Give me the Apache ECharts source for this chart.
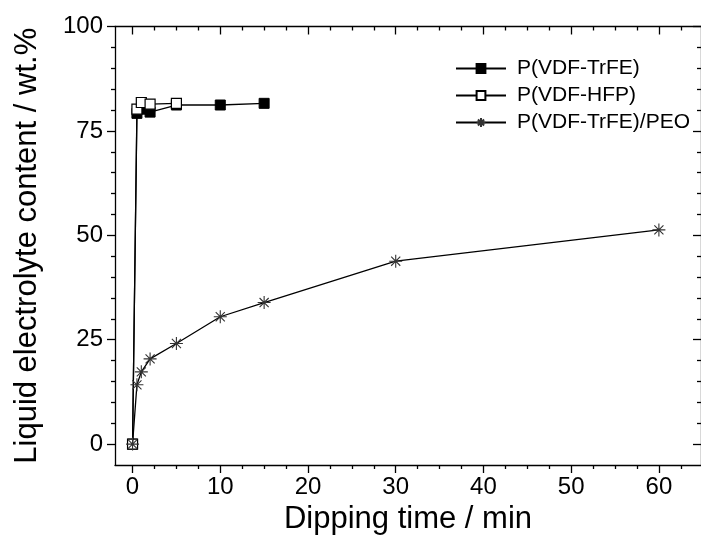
<!DOCTYPE html>
<html>
<head>
<meta charset="utf-8">
<script src="https://cdn.jsdelivr.net/npm/echarts@6/dist/echarts.min.js"></script>
<style>
  html, body { margin: 0; padding: 0; background: #fff; }
  #chart { width: 701px; height: 543px; }
</style>
</head>
<body>
<div id="chart"></div>
<script>
// Dipping time (min) and liquid electrolyte uptake (wt.%)
const seriesNames = ['P(VDF-TrFE)', 'P(VDF-HFP)', 'P(VDF-TrFE)/PEO'];
const timeTrFE = [0, 0.5, 1, 2, 5, 10, 15];
const uptakeTrFE = [0, 79.2, 80.2, 79.5, 81.2, 81.2, 81.6];
const timeHFP = [0, 0.5, 1, 2, 5];
const uptakeHFP = [0, 80.2, 81.8, 81.4, 81.6];
const timePEO = [0, 0.5, 1, 2, 5, 10, 15, 30, 60];
const uptakePEO = [0, 14.2, 17.3, 20.4, 24.1, 30.5, 33.9, 43.8, 51.3];

const xTickLabels = [0, 10, 20, 30, 40, 50, 60];
const yTickLabels = [0, 25, 50, 75, 100];

const X_MIN = -2, X_MAX = 64.8, Y_MIN = -5, Y_MAX = 100;

function minorValues(start, end, step, majors) {
  const out = [];
  for (let v = start; v <= end + 1e-9; v += step) {
    if (!majors.some(m => Math.abs(m - v) < 1e-9)) out.push(+v.toFixed(3));
  }
  return out;
}
const xMinor = minorValues(2.5, 62.5, 2.5, xTickLabels);
const yMinor = minorValues(5, 95, 5, yTickLabels);

const FONT = '"Liberation Sans", Arial, sans-serif';
const AX = { color: '#000', width: 1.3 };

function axisDef(pos, lo, hi, ticks, len, inside, withLine, withLabel, margin) {
  return {
    type: 'value', position: pos, min: lo, max: hi,
    splitLine: { show: false },
    axisLine: { show: withLine, onZero: false, lineStyle: AX },
    axisTick: { show: true, inside: inside, length: len, customValues: ticks, lineStyle: AX },
    axisLabel: withLabel
      ? { show: true, customValues: ticks, fontSize: 24, color: '#000', fontFamily: FONT, margin: margin }
      : { show: false }
  };
}

const xAxes = [
  Object.assign(axisDef('bottom', X_MIN, X_MAX, xTickLabels, 8, false, true, true, 10), {
    name: 'Dipping time / min', nameLocation: 'middle', nameGap: 37,
    nameTextStyle: { fontSize: 31, color: '#000', fontFamily: FONT }
  }),
  axisDef('bottom', X_MIN, X_MAX, xMinor, 4, false, false, false),
  axisDef('top', X_MIN, X_MAX, xTickLabels, 8, true, true, false),
  axisDef('top', X_MIN, X_MAX, xMinor, 4, true, false, false)
];
const yAxes = [
  Object.assign(axisDef('left', Y_MIN, Y_MAX, yTickLabels, 8, false, true, true, 12), {
    name: 'Liquid electrolyte content / wt.%', nameLocation: 'middle', nameGap: 72,
    nameTextStyle: { fontSize: 31, color: '#000', fontFamily: FONT }
  }),
  axisDef('left', Y_MIN, Y_MAX, yMinor, 4, false, false, false),
  axisDef('right', Y_MIN, Y_MAX, yTickLabels, 8, true, true, false),
  axisDef('right', Y_MIN, Y_MAX, yMinor, 4, true, false, false)
];

// asterisk marker: vertical, horizontal and both diagonals
const starPath = 'path://M0,-10L0,10M-10,0L10,0M-7,-7L7,7M-7,7L7,-7';

function pairs(xs, ys) { return xs.map((x, i) => [x, ys[i]]); }

const chart = echarts.init(document.getElementById('chart'), null, { renderer: 'canvas' });
chart.setOption({
  backgroundColor: '#fff',
  animation: false,
  grid: { left: 115, top: 26.5, width: 590, height: 438.5, containLabel: false },
  xAxis: xAxes,
  yAxis: yAxes,
  legend: {
    data: seriesNames,
    orient: 'vertical',
    left: 455, top: 58,
    itemWidth: 50, itemHeight: 11, itemGap: 6,
    textStyle: { fontSize: 21, color: '#000', fontFamily: FONT, padding: [0, 0, 0, 6] },
    padding: 0
  },
  series: [
    {
      name: seriesNames[0], type: 'line', data: pairs(timeTrFE, uptakeTrFE),
      symbol: 'rect', symbolSize: 10,
      lineStyle: { color: '#000', width: 1.3 },
      itemStyle: { color: '#000', borderColor: '#000', borderWidth: 1 },
      z: 2
    },
    {
      name: seriesNames[1], type: 'line', data: pairs(timeHFP, uptakeHFP),
      symbol: 'rect', symbolSize: 10,
      lineStyle: { color: '#000', width: 1.3 },
      itemStyle: { color: '#fff', borderColor: '#000', borderWidth: 1.2 },
      z: 3
    },
    {
      name: seriesNames[2], type: 'line', data: pairs(timePEO, uptakePEO),
      symbol: starPath, symbolSize: 13,
      lineStyle: { color: '#000', width: 1.3 },
      itemStyle: { color: 'none', borderColor: '#333', borderWidth: 1.1 },
      z: 4
    }
  ]
});
</script>
</body>
</html>
